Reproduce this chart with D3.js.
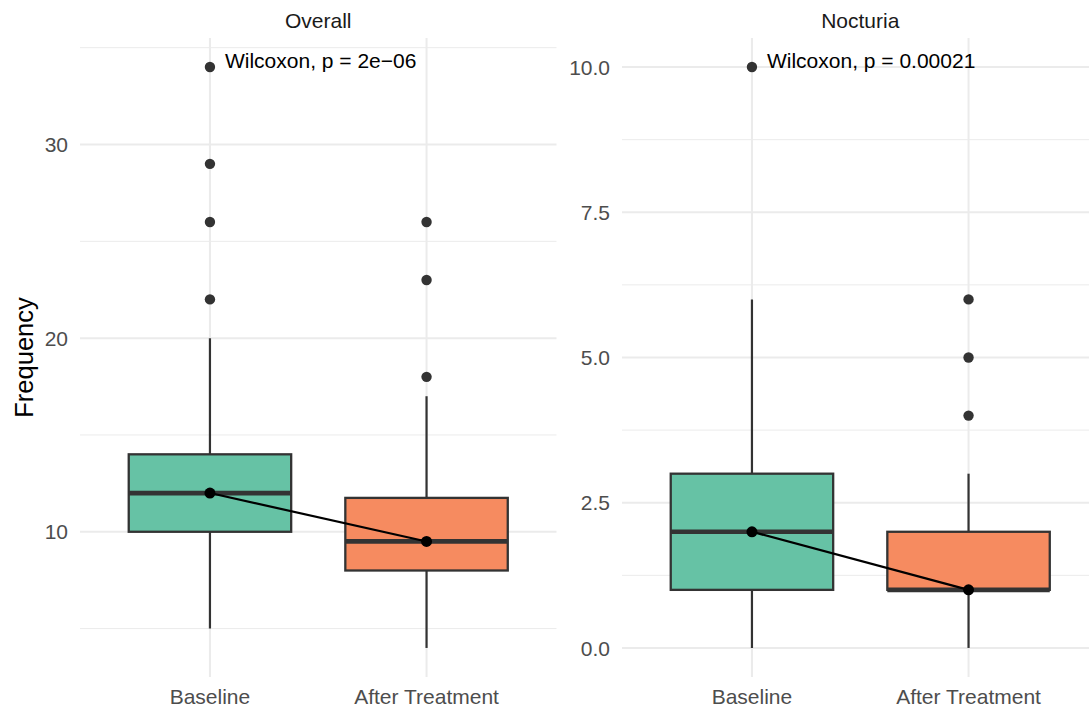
<!DOCTYPE html>
<html>
<head>
<meta charset="utf-8">
<script src="https://cdn.jsdelivr.net/npm/d3@7"></script>
<style>
  body { margin: 0; background: #fff; }
  text { font-family: "Liberation Sans", Arial, Helvetica, sans-serif; }
</style>
</head>
<body>
<div id="chart"></div>
<script>
// groups and panels
const groups = ['Baseline', 'After Treatment'];
const panelNames = ['Overall', 'Nocturia'];
const pLabels = ['Wilcoxon, p = 2e\u221206', 'Wilcoxon, p = 0.00021'];

// box stats per group: [lower whisker, q1, median, q3, upper whisker]
const overallBoxes = [[5, 10, 12, 14, 20], [4, 8, 9.5, 11.75, 17]];
const nocturiaBoxes = [[0, 1, 2, 3, 6], [0, 1, 1, 2, 3]];

// outliers per group
const overallOutliers = [[22, 26, 29, 34], [18, 23, 26]];
const nocturiaOutliers = [[10], [4, 5, 6]];

// y ticks
const overallTicks = [10, 20, 30];
const nocturiaTicks = [0, 2.5, 5, 7.5, 10];

const fills = ['#66C2A5', '#F68B60'];

const width = 1089;
const height = 710;

const svg = d3.select('#chart')
  .append('svg')
  .attr('width', width)
  .attr('height', height);

const panels = [
  { name: panelNames[0], boxes: overallBoxes, outliers: overallOutliers, ticks: overallTicks,
    fmt: d3.format('d'), x0: 80, x1: 556.5, label: pLabels[0] },
  { name: panelNames[1], boxes: nocturiaBoxes, outliers: nocturiaOutliers, ticks: nocturiaTicks,
    fmt: d3.format('.1f'), x0: 622, x1: 1098.5, label: pLabels[1] }
];

const panelTop = 38, panelBottom = 677;

panels.forEach((p) => {
  const allVals = p.boxes.flat().concat(p.outliers.flat());
  const [lo, hi] = d3.extent(allVals);
  const pad = (hi - lo) * 0.05;
  const y = d3.scaleLinear().domain([lo - pad, hi + pad]).range([panelBottom, panelTop]);
  const x = d3.scalePoint().domain(groups).range([p.x0, p.x1]).padding(0.6);
  const step = x.step();
  const bw = step * 0.75;

  const g = svg.append('g');

  // minor gridlines (midpoints between majors)
  const tstep = p.ticks[1] - p.ticks[0];
  const minor = d3.range(p.ticks[0] - tstep / 2, p.ticks[p.ticks.length - 1] + tstep, tstep)
    .filter((v) => v >= y.domain()[0] && v <= y.domain()[1]);
  g.selectAll('.minor').data(minor).join('line')
    .attr('x1', p.x0).attr('x2', p.x1)
    .attr('y1', (d) => y(d)).attr('y2', (d) => y(d))
    .attr('stroke', '#ebebeb').attr('stroke-width', 1);

  // major gridlines
  g.selectAll('.major').data(p.ticks).join('line')
    .attr('x1', p.x0).attr('x2', p.x1)
    .attr('y1', (d) => y(d)).attr('y2', (d) => y(d))
    .attr('stroke', '#ebebeb').attr('stroke-width', 2);

  g.selectAll('.vmajor').data(groups).join('line')
    .attr('x1', (d) => x(d)).attr('x2', (d) => x(d))
    .attr('y1', panelTop).attr('y2', panelBottom)
    .attr('stroke', '#ebebeb').attr('stroke-width', 2);

  // y tick labels
  g.selectAll('.ytick').data(p.ticks).join('text')
    .attr('x', p.x0 - 12)
    .attr('y', (d) => y(d))
    .attr('dy', '0.36em')
    .attr('text-anchor', 'end')
    .attr('fill', '#4d4d4d')
    .attr('font-size', 21)
    .text((d) => p.fmt(d));

  // x tick labels
  g.selectAll('.xtick').data(groups).join('text')
    .attr('x', (d) => x(d))
    .attr('y', 704)
    .attr('text-anchor', 'middle')
    .attr('fill', '#4d4d4d')
    .attr('font-size', 21)
    .text((d) => d);

  // strip title
  g.append('text')
    .attr('x', (p.x0 + p.x1) / 2)
    .attr('y', 28)
    .attr('text-anchor', 'middle')
    .attr('fill', '#1a1a1a')
    .attr('font-size', 21)
    .text(p.name);

  // whiskers
  const boxes = groups.map((grp, i) => ({ grp, s: p.boxes[i], fill: fills[i] }));
  g.selectAll('.whisk').data(boxes).join('line')
    .attr('x1', (d) => x(d.grp)).attr('x2', (d) => x(d.grp))
    .attr('y1', (d) => y(d.s[0])).attr('y2', (d) => y(d.s[4]))
    .attr('stroke', '#333333').attr('stroke-width', 2.2);

  // boxes
  g.selectAll('.box').data(boxes).join('rect')
    .attr('x', (d) => x(d.grp) - bw / 2)
    .attr('width', bw)
    .attr('y', (d) => y(d.s[3]))
    .attr('height', (d) => y(d.s[1]) - y(d.s[3]))
    .attr('fill', (d) => d.fill)
    .attr('stroke', '#333333').attr('stroke-width', 2.3);

  // median bars
  g.selectAll('.med').data(boxes).join('line')
    .attr('x1', (d) => x(d.grp) - bw / 2).attr('x2', (d) => x(d.grp) + bw / 2)
    .attr('y1', (d) => y(d.s[2])).attr('y2', (d) => y(d.s[2]))
    .attr('stroke', '#333333').attr('stroke-width', 4.7);

  // outliers
  const outs = groups.flatMap((grp, i) => p.outliers[i].map((v) => ({ grp, v })));
  g.selectAll('.out').data(outs).join('circle')
    .attr('cx', (d) => x(d.grp)).attr('cy', (d) => y(d.v))
    .attr('r', 5.2).attr('fill', '#333333');

  // median connecting line and points
  const line = d3.line().x((d) => x(d.grp)).y((d) => y(d.s[2]));
  g.append('path').datum(boxes)
    .attr('d', line)
    .attr('fill', 'none').attr('stroke', '#000').attr('stroke-width', 2.2);
  g.selectAll('.mpt').data(boxes).join('circle')
    .attr('cx', (d) => x(d.grp)).attr('cy', (d) => y(d.s[2]))
    .attr('r', 5.5).attr('fill', '#000');

  // test label
  g.append('text')
    .attr('x', x(groups[0]) + 15)
    .attr('y', y(hi) + 1)
    .attr('fill', '#000')
    .attr('font-size', 21)
    .text(p.label);
});

// y axis title
svg.append('text')
  .attr('transform', `translate(33, ${(panelTop + panelBottom) / 2}) rotate(-90)`)
  .attr('text-anchor', 'middle')
  .attr('fill', '#000')
  .attr('font-size', 25.5)
  .text('Frequency');
</script>
</body>
</html>
